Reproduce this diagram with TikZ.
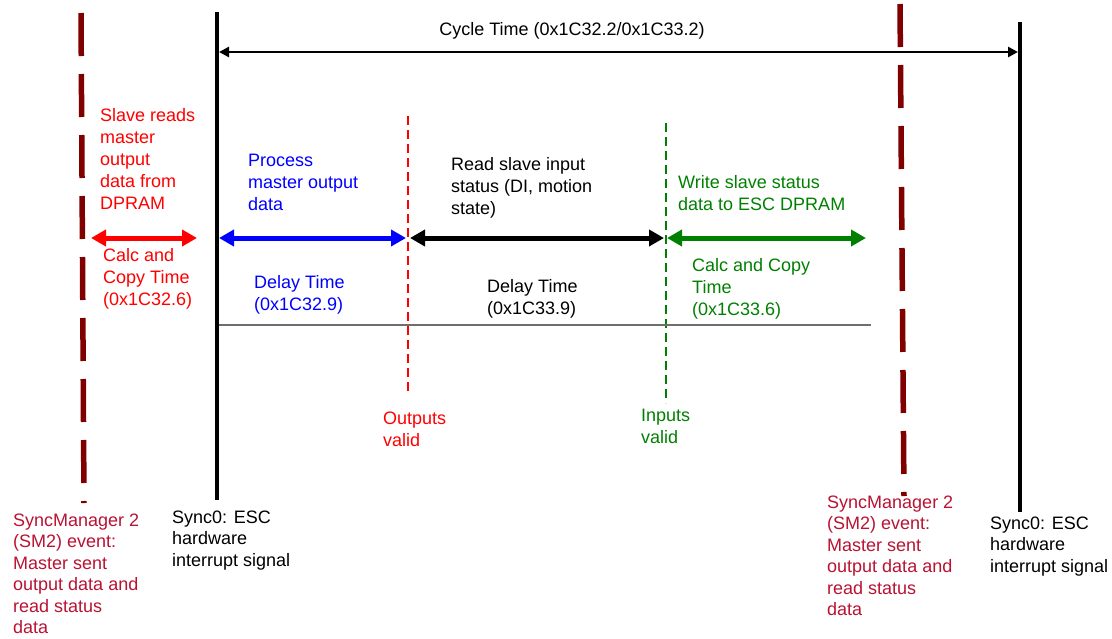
\documentclass[tikz,border=0pt]{standalone}
\usepackage{fontspec}
\setmainfont{Liberation Sans}
\usetikzlibrary{arrows.meta}
\definecolor{dred}{RGB}{128,0,0}
\definecolor{smred}{RGB}{185,18,50}
\definecolor{dgreen}{RGB}{0,128,0}
\definecolor{gline}{RGB}{110,110,110}
\begin{document}
\begin{tikzpicture}[x=1pt,y=-1pt,
  lbl/.style={anchor=north west, inner sep=0pt, align=left, yshift=15.4pt, font=\fontsize{18}{22}\selectfont},
  lbls/.style={anchor=north west, inner sep=0pt, align=left, yshift=15.05pt, font=\fontsize{18}{21.5}\selectfont},
  smline/.style={draw=dred, line width=5.5pt, dash pattern=on 43pt off 18pt},
  syncline/.style={draw=black, line width=4pt},
  validline/.style={line width=2pt, dash pattern=on 9pt off 5pt},
  fat/.style={line width=5pt, {Triangle[length=15pt,width=16pt]}-{Triangle[length=15pt,width=16pt]}},
  cyc/.style={line width=2.5pt, {Triangle[length=10pt,width=10pt]}-{Triangle[length=10pt,width=10pt]}}
]
\useasboundingbox (0,0) rectangle (1112,638);

% vertical event lines
\coordinate (L1t) at (81,13);   \coordinate (L1b) at (84,503);
\coordinate (L2t) at (900,4);   \coordinate (L2b) at (904,496);
\coordinate (S1t) at (217,12);  \coordinate (S1b) at (217,500);
\coordinate (S2t) at (1020,22); \coordinate (S2b) at (1020,512);
\draw[smline] (L1t) -- (L1b);
\draw[smline] (L2t) -- (L2b);
\draw[syncline] (S1t) -- (S1b);
\draw[syncline] (S2t) -- (S2b);

% valid lines
\coordinate (Ot) at (408,116); \coordinate (Ob) at (408,395);
\coordinate (It) at (666,123); \coordinate (Ib) at (666,403);
\draw[validline, draw=red] (Ot) -- (Ob);
\draw[validline, draw=dgreen] (It) -- (Ib);

% cycle time
\coordinate (c1) at (219,52); \coordinate (c2) at (1018,52);
\draw[cyc] (c1) -- (c2);
\node[inner sep=0pt, font=\fontsize{18}{22}\selectfont] (ct) at (572,31) {Cycle Time (0x1C32.2/0x1C33.2)};

% phase arrows
\coordinate (r1) at (91,238);  \coordinate (r2) at (197,238);
\coordinate (b1) at (219,238); \coordinate (b2) at (406,238);
\coordinate (k1) at (410,238); \coordinate (k2) at (664,238);
\coordinate (g1) at (667,238); \coordinate (g2) at (866,238);
\draw[fat, red] (r1) -- (r2);
\draw[fat, blue] (b1) -- (b2);
\draw[fat, black] (k1) -- (k2);
\draw[fat, dgreen] (g1) -- (g2);

% baseline
\coordinate (h1) at (219,325); \coordinate (h2) at (871,325);
\draw[line width=1.2pt, gline] (h1) -- (h2);

% labels
\node[lbl, text=red] (t1) at (100,121) {\strut Slave reads\\master\\output\\data from\\DPRAM};
\node[lbl, text=red] (t2) at (103,261) {\strut Calc and\\Copy Time\\(0x1C32.6)};
\node[lbl, text=blue] (t3) at (248,166) {\strut Process\\master output\\data};
\node[lbl, text=blue] (t4) at (254,288) {\strut Delay Time\\(0x1C32.9)};
\node[lbl] (t5) at (451,170) {\strut Read slave input\\status (DI, motion\\state)};
\node[lbl] (t6) at (487,292) {\strut Delay Time\\(0x1C33.9)};
\node[lbl, text=dgreen] (t7) at (678,188) {\strut Write slave status\\data to ESC DPRAM};
\node[lbl, text=dgreen] (t8) at (692,271) {\strut Calc and Copy\\Time\\(0x1C33.6)};
\node[lbl, text=red] (t9) at (383,424) {\strut Outputs\\valid};
\node[lbl, text=dgreen] (t10) at (641,421) {\strut Inputs\\valid};

\node[lbls, text=smred] (sm1) at (13,526) {\strut SyncManager 2\\(SM2) event:\\Master sent\\output data and\\read status\\data};
\node[lbls] (sy1) at (172,523) {\strut Sync0: ESC\\hardware\\interrupt signal};
\node[lbls, text=smred] (sm2) at (827,508) {\strut SyncManager 2\\(SM2) event:\\Master sent\\output data and\\read status\\data};
\node[lbls] (sy2) at (990,529) {\strut Sync0: ESC\\hardware\\interrupt signal};
\end{tikzpicture}
\end{document}
